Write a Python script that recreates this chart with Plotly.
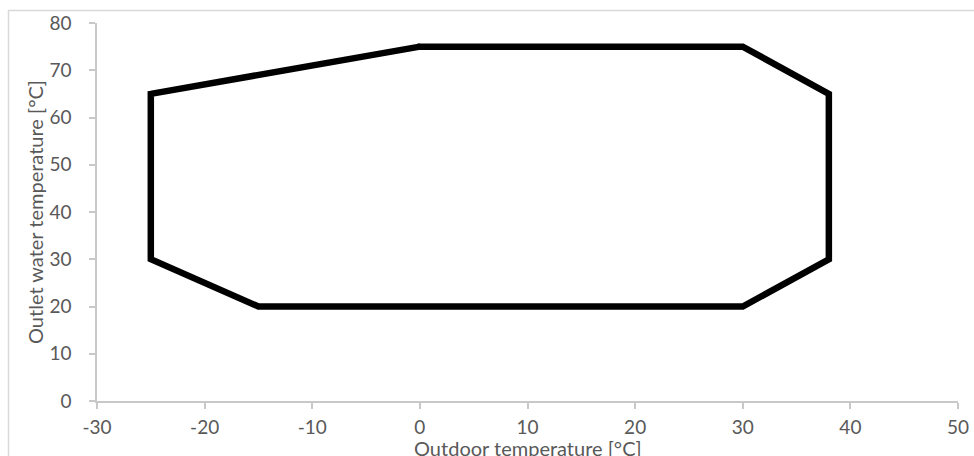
import plotly.graph_objects as go

# Operating envelope (outdoor temp, outlet water temp); the first edge is
# repeated at the end so the closing corner is joined cleanly
outdoor_temp = [-25, 0, 30, 38, 38, 30, -15, -25, -25, 0]
water_temp = [65, 75, 75, 65, 30, 20, 20, 30, 65, 75]

x_ticks = [-30, -20, -10, 0, 10, 20, 30, 40, 50]
y_ticks = [0, 10, 20, 30, 40, 50, 60, 70, 80]
x_title = "Outdoor temperature [°C]"
y_title = "Outlet water temperature [°C]"

FONT = "Lato, Carlito, Calibri, sans-serif"
GRAY_TXT = "#595959"
AXIS_COL = "#c8c8c8"

W, H = 974, 456
L, R, T, B = 97, 16, 23, 55
pw, ph = W - L - R, H - T - B

fig = go.Figure()
fig.add_trace(go.Scatter(
    x=outdoor_temp, y=water_temp, mode="lines",
    line=dict(color="#000000", width=6.5),
    showlegend=False, hoverinfo="skip",
))

axis_common = dict(
    showgrid=False, zeroline=False, showline=True, linecolor=AXIS_COL, linewidth=1.5,
    ticks="outside", ticklen=6, tickcolor=AXIS_COL, tickwidth=1.5,
    tickfont=dict(size=19, color=GRAY_TXT), automargin=False,
)

fig.update_layout(
    width=W, height=H,
    margin=dict(l=L, r=R, t=T, b=B),
    paper_bgcolor="white", plot_bgcolor="white",
    font=dict(family=FONT, color=GRAY_TXT, size=19),
    xaxis=dict(range=[-30, 50], tickvals=x_ticks, ticktext=[str(v) for v in x_ticks],
               ticklabelstandoff=2, **axis_common),
    yaxis=dict(range=[0, 80], tickvals=y_ticks, ticktext=[str(v) for v in y_ticks],
               ticklabelstandoff=14, **axis_common),
)

fig.add_annotation(
    text=x_title, xref="paper", yref="paper", x=0.5, y=-(448 - (T + ph)) / ph,
    xanchor="center", yanchor="middle", showarrow=False,
    font=dict(size=20, color=GRAY_TXT, family=FONT),
)
fig.add_annotation(
    text=y_title, xref="paper", yref="paper", x=(35 - L) / pw, y=0.5,
    xanchor="center", yanchor="middle", textangle=-90, showarrow=False,
    font=dict(size=20, color=GRAY_TXT, family=FONT),
)

# chart-area border (light gray), cropped at right/bottom
fig.add_shape(
    type="rect", xref="paper", yref="paper",
    x0=(8.5 - L) / pw, x1=(W + 20 - L) / pw,
    y0=-(H + 20 - T - ph) / ph, y1=1 + (T - 10.5) / ph,
    line=dict(color="#d9d9d9", width=1.5), fillcolor="rgba(0,0,0,0)", layer="below",
)

fig.write_html(
    "out.html",
    config={"displayModeBar": False},
    post_script="document.body.style.margin='0';document.body.style.overflow='hidden';",
)
